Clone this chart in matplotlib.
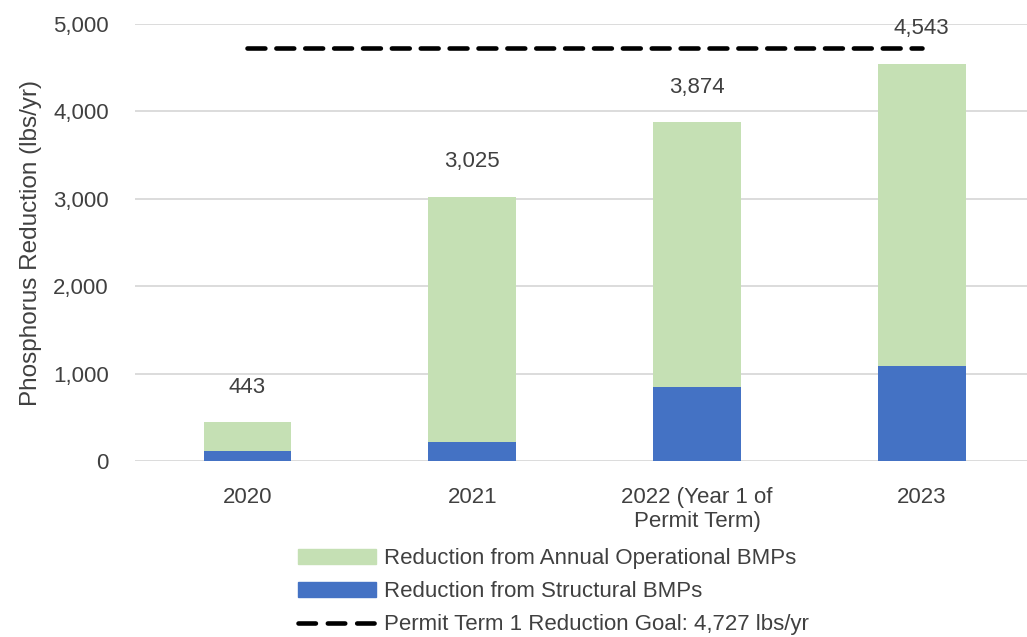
import matplotlib
matplotlib.use("Agg")
import matplotlib.pyplot as plt
from matplotlib.lines import Line2D
from matplotlib.patches import Patch
from matplotlib.ticker import FuncFormatter

plt.rcParams['font.family'] = ['Liberation Sans', 'DejaVu Sans']

# data
categories = ['2020', '2021', '2022 (Year 1 of\nPermit Term)', '2023']
structural = [111, 217, 850, 1087]
totals = [443, 3025, 3874, 4543]
operational = [t - s for t, s in zip(totals, structural)]
goal = 4727

blue = '#4472c4'
green = '#c5e0b4'
txt = '#404040'
fs = 16

fig = plt.figure(figsize=(10.27, 6.37), dpi=100)
ax = fig.add_axes([0.1315, 0.2763, 0.8754, 0.686])

x = list(range(len(categories)))
ax.bar(x, structural, width=0.39, color=blue, zorder=3)
ax.bar(x, operational, width=0.39, bottom=structural, color=green, zorder=3)

# goal line from first to last category
ax.plot([x[0], x[-1]], [goal, goal], color='black', lw=3.3,
        dashes=(3.9, 2.4), dash_capstyle='round', zorder=4)

for xi, t in zip(x, totals):
    ax.text(xi, t + 400, f'{t:,}', ha='center', va='center', fontsize=fs, color=txt)

ax.set_xlim(-0.5, 3.5)
ax.set_ylim(0, 5000)
ax.set_yticks(range(0, 5001, 1000))
ax.yaxis.set_major_formatter(FuncFormatter(lambda v, p: f'{int(v):,}'))
ax.set_xticks(x)
ax.set_xticklabels(categories, fontsize=fs, color=txt, linespacing=1.15)
ax.tick_params(axis='y', labelsize=fs, colors=txt, length=0, pad=19)
ax.tick_params(axis='x', length=0, pad=19)
ax.grid(axis='y', color='#d9d9d9', lw=1.3, zorder=0)
ax.set_axisbelow(True)
for s in ax.spines.values():
    s.set_visible(False)
ax.set_ylabel('Phosphorus Reduction (lbs/yr)', fontsize=17.5, color=txt, labelpad=8)

handles = [Patch(color=green), Patch(color=blue),
           Line2D([], [], color='black', lw=3.3, dashes=(3.8, 2.6), dash_capstyle='round')]
labels = ['Reduction from Annual Operational BMPs', 'Reduction from Structural BMPs',
          'Permit Term 1 Reduction Goal: 4,727 lbs/yr']
fig.legend(handles, labels, loc='upper left', bbox_to_anchor=(0.290, 0.139),
           frameon=False, fontsize=fs, handlelength=3.5, handleheight=0.63,
           handletextpad=0.4, labelspacing=0.54, borderpad=0, borderaxespad=0,
           labelcolor=txt)

fig.savefig('out.png', dpi=100)
